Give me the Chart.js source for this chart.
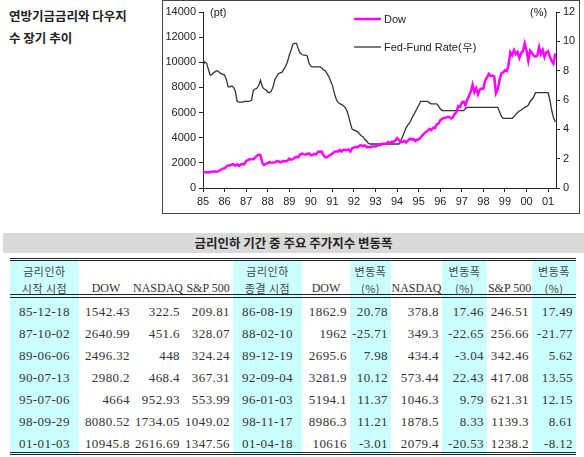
<!DOCTYPE html>
<html>
<head>
<meta charset="utf-8">
<script src="https://cdn.jsdelivr.net/npm/chart.js"></script>
<style>
  body { margin: 0; background: #fff; width: 584px; height: 457px; position: relative; overflow: hidden; }
  .title { position: absolute; left: 9px; top: 5px; font: bold 12.5px "Noto Sans CJK KR", sans-serif; line-height: 22px; color: #222; }
  .frame { position: absolute; left: 162px; top: 0; width: 418px; height: 214px; border: 1px solid #444; box-sizing: border-box; }
  .frame canvas { position: absolute; left: 0; top: 0; }
  .bar { position: absolute; left: 3px; top: 233px; width: 581px; height: 20px; background: #d9d9d9;
         font: bold 12.5px "Noto Sans CJK KR", sans-serif; color: #222; text-align: center; line-height: 20px; }
  table { position: absolute; left: 10px; top: 258px; border-collapse: collapse; table-layout: fixed;
          border-top: 3px double #222; border-bottom: 3px double #222; color: #333; }
  th { height: 30px; padding: 0; font-weight: normal; vertical-align: bottom; text-align: center;
       border-bottom: 4px double #222; font: 12px "Liberation Serif", serif; line-height: 16.5px; }
  th div { position: relative; top: 2px; }
  th .ko { font: 11px "Noto Sans CJK KR", sans-serif; letter-spacing: 0.5px; line-height: 16.5px; color: #444; }
  td { height: 22px; padding: 0 3px 0 0; text-align: right; font: 13px "Liberation Serif", serif; letter-spacing: 0.4px; }
  td span { position: relative; top: 3px; }
  .c { background: #ccffff; }
  td.d { text-align: center; padding: 0; }
</style>
</head>
<body>
<div class="title">연방기금금리와 다우지<br>수 장기 추이</div>
<div class="frame"><canvas id="chart" width="416" height="212"></canvas></div>
<div class="bar">금리인하 기간 중 주요 주가지수 변동폭</div>
<table id="tbl">
  <colgroup>
    <col style="width:69px"><col style="width:54px"><col style="width:50px"><col style="width:50px">
    <col style="width:69px"><col style="width:48px"><col style="width:41px"><col style="width:51px">
    <col style="width:45px"><col style="width:45px"><col style="width:44px">
  </colgroup>
  <thead id="thead"></thead>
  <tbody id="tbody"></tbody>
</table>
<script>
// monthly, Jan 1985 .. May 2001
const yearLabels = ['85', '86', '87', '88', '89', '90', '91', '92', '93', '94', '95', '96', '97', '98', '99', '00', '01']

const dowValues = [
  1240, 1260, 1250, 1230, 1270, 1300, 1320, 1310, 1300, 1360, 1450, 1540,
  1570, 1700, 1810, 1780, 1870, 1880, 1770, 1890, 1760, 1870, 1910, 1895,
  2150, 2220, 2300, 2280, 2290, 2420, 2570, 2650, 2600, 1990, 1830, 1940,
  1960, 2070, 1990, 2030, 2030, 2140, 2130, 2030, 2110, 2150, 2115, 2170,
  2340, 2260, 2290, 2420, 2480, 2440, 2660, 2740, 2690, 2645, 2705, 2750,
  2590, 2630, 2710, 2660, 2880, 2880, 2905, 2615, 2450, 2440, 2560, 2635,
  2735, 2880, 2915, 2890, 3030, 2905, 3025, 3045, 3015, 3070, 2895, 3170,
  3225, 3265, 3235, 3360, 3395, 3320, 3395, 3255, 3270, 3225, 3305, 3300,
  3310, 3370, 3435, 3430, 3525, 3515, 3540, 3650, 3555, 3680, 3685, 3755,
  3980, 3830, 3635, 3680, 3760, 3625, 3765, 3915, 3845, 3910, 3740, 3835,
  3845, 4010, 4160, 4320, 4465, 4555, 4710, 4610, 4790, 4755, 5075, 5115,
  5395, 5485, 5590, 5570, 5645, 5655, 5530, 5615, 5880, 6030, 6520, 6450,
  6815, 6875, 6585, 7010, 7330, 7670, 8220, 7620, 7945, 7440, 7825, 7910,
  7905, 8545, 8800, 9065, 8900, 8950, 8885, 7540, 7845, 8590, 9115, 9180,
  9360, 9305, 9785, 10790, 10560, 10970, 10655, 10830, 10335, 10730, 10880, 11495,
  10940, 10130, 10920, 10735, 10520, 10450, 10520, 11215, 10650, 10970, 10415, 10790,
  10885, 10450, 10100, 9900, 10700
]

const fedRate = [
  8.35, 8.6, 8.5, 8.1, 7.7, 7.75, 7.85, 7.95, 8.0, 7.9, 7.8, 7.75,
  7.7, 7.4, 6.9, 6.9, 6.95, 6.85, 6.6, 5.9, 5.85, 5.85, 5.85, 5.9,
  5.9, 5.9, 5.93, 6.0, 6.65, 6.75, 6.8, 7.0, 7.35, 6.9, 6.75, 6.7,
  6.55, 6.5, 6.6, 6.9, 7.4, 7.6, 7.8, 7.85, 7.9, 8.1, 8.3, 8.6,
  9.06, 9.4, 9.8, 9.86, 9.86, 9.5, 9.2, 9.1, 9.06, 9.06, 9.0, 8.5,
  8.3, 8.26, 8.26, 8.26, 8.26, 8.26, 8.2, 8.05, 8.0, 7.8, 7.6, 7.3,
  7.0, 6.5, 6.1, 5.85, 5.75, 5.7, 5.62, 5.5, 5.3, 4.9, 4.4, 4.0,
  3.95, 3.9, 3.85, 3.7, 3.56, 3.5, 3.3, 3.2, 3.05, 3.0, 3.0, 3.0,
  3.0, 3.0, 3.0, 3.0, 3.0, 3.0, 3.0, 3.0, 3.0, 3.0, 3.0, 3.0,
  3.0, 3.0, 3.2, 3.5, 3.8, 4.1, 4.3, 4.45, 4.7, 4.95, 5.16, 5.4,
  5.62, 5.9, 5.9, 5.9, 5.9, 5.9, 5.8, 5.74, 5.74, 5.74, 5.74, 5.6,
  5.4, 5.28, 5.28, 5.28, 5.28, 5.28, 5.28, 5.28, 5.28, 5.28, 5.28, 5.28,
  5.28, 5.28, 5.4, 5.5, 5.5, 5.5, 5.5, 5.5, 5.5, 5.5, 5.5, 5.5,
  5.5, 5.5, 5.5, 5.5, 5.5, 5.5, 5.5, 5.5, 5.5, 5.2, 4.9, 4.75,
  4.75, 4.75, 4.75, 4.75, 4.75, 4.85, 5.0, 5.15, 5.25, 5.3, 5.4, 5.5,
  5.55, 5.65, 5.9, 6.05, 6.2, 6.5, 6.5, 6.5, 6.5, 6.5, 6.5, 6.5,
  6.5, 6.0, 5.3, 4.8, 4.5
]

// table
const tableHead = ['금리인하<br>시작 시점', 'DOW', 'NASDAQ', 'S&amp;P 500', '금리인하<br>종결 시점',
  'DOW', '변동폭<br>(%)', 'NASDAQ', '변동폭<br>(%)', 'S&amp;P 500', '변동폭<br>(%)']
const cutStart = ['85-12-18', '87-10-02', '89-06-06', '90-07-13', '95-07-06', '98-09-29', '01-01-03']
const dowStart = ['1542.43', '2640.99', '2496.32', '2980.2', '4664', '8080.52', '10945.8']
const nasdaqStart = ['322.5', '451.6', '448', '468.4', '952.93', '1734.05', '2616.69']
const spStart = ['209.81', '328.07', '324.24', '367.31', '553.99', '1049.02', '1347.56']
const cutEnd = ['86-08-19', '88-02-10', '89-12-19', '92-09-04', '96-01-03', '98-11-17', '01-04-18']
const dowEnd = ['1862.9', '1962', '2695.6', '3281.9', '5194.1', '8986.3', '10616']
const dowChg = ['20.78', '-25.71', '7.98', '10.12', '11.37', '11.21', '-3.01']
const nasdaqEnd = ['378.8', '349.3', '434.4', '573.44', '1046.3', '1878.5', '2079.4']
const nasdaqChg = ['17.46', '-22.65', '-3.04', '22.43', '9.79', '8.33', '-20.53']
const spEnd = ['246.51', '256.66', '342.46', '417.08', '621.31', '1139.3', '1238.2']
const spChg = ['17.49', '-21.77', '5.62', '13.55', '12.15', '8.61', '-8.12']

const cyanCols = [0, 4, 6, 8, 10]
let head = '<tr>'
tableHead.forEach((h, i) => {
  const ko = /[가-힣]/.test(h) ? ' class="ko"' : ''
  head += '<th' + (cyanCols.includes(i) ? ' class="c"' : '') + '><div' + ko + '>' + h + '</div></th>'
})
document.getElementById('thead').innerHTML = head + '</tr>'

const cols = [cutStart, dowStart, nasdaqStart, spStart, cutEnd, dowEnd, dowChg, nasdaqEnd, nasdaqChg, spEnd, spChg]
let body = ''
for (let r = 0; r < cutStart.length; r++) {
  body += '<tr>'
  cols.forEach((col, i) => {
    let cls = cyanCols.includes(i) ? 'c' : ''
    if (i === 0 || i === 4) cls += ' d'
    body += '<td class="' + cls + '"><span>' + col[r] + '</span></td>'
  })
  body += '</tr>'
}
document.getElementById('tbody').innerHTML = body

// legend + unit labels drawn on the canvas
const decor = {
  id: 'decor',
  afterDraw(chart) {
    const ctx = chart.ctx
    ctx.save()
    ctx.font = '11px "Liberation Sans", Arial, sans-serif'
    ctx.fillStyle = '#222'
    ctx.textBaseline = 'middle'
    ctx.fillText('(pt)', 47, 12)
    ctx.fillText('(%)', 367, 12)
    const rows = [18, 46]
    chart.data.datasets.forEach((ds, i) => {
      ctx.strokeStyle = ds.borderColor
      ctx.lineWidth = ds.borderWidth
      ctx.beginPath()
      ctx.moveTo(191, rows[i])
      ctx.lineTo(218, rows[i])
      ctx.stroke()
      ctx.fillText(ds.label, 221, rows[i] + 1)
    })
    ctx.restore()
  }
}

const axisStyle = {
  grid: { drawOnChartArea: false, drawTicks: true, tickLength: 4, color: '#222' },
  border: { display: true, color: '#222', width: 1 }
}
const tickFont = { family: '"Liberation Sans", Arial, sans-serif', size: 11 }

new Chart(document.getElementById('chart'), {
  type: 'line',
  data: {
    datasets: [
      {
        label: 'Dow',
        data: dowValues.map((v, i) => ({ x: i, y: v })),
        borderColor: '#ff00ff',
        borderWidth: 2.5,
        pointRadius: 0,
        tension: 0,
        yAxisID: 'y'
      },
      {
        label: 'Fed-Fund Rate(우)',
        data: fedRate.map((v, i) => ({ x: i, y: v })),
        borderColor: '#333333',
        borderWidth: 1.3,
        pointRadius: 0,
        tension: 0,
        yAxisID: 'y1'
      }
    ]
  },
  options: {
    responsive: false,
    animation: false,
    layout: { padding: { top: 11, left: 0, right: 0, bottom: 0 } },
    plugins: { legend: { display: false }, tooltip: { enabled: false } },
    scales: {
      x: {
        type: 'linear',
        min: 0,
        max: 196.4,
        ...axisStyle,
        // one tick per January
        afterBuildTicks: (s) => { s.ticks = yearLabels.map((_, i) => ({ value: i * 12 })) },
        afterFit: (s) => { s.height = 25 },
        ticks: {
          autoSkip: false, maxRotation: 0, padding: 3, color: '#222', font: tickFont,
          callback: (v) => yearLabels[Math.round(v / 12)]
        }
      },
      y: {
        position: 'left',
        min: 0,
        max: 14000,
        ...axisStyle,
        afterFit: (s) => { s.width = 40 },
        ticks: { stepSize: 2000, padding: 3, color: '#222', font: tickFont, callback: (v) => String(v) }
      },
      y1: {
        position: 'right',
        min: 0,
        max: 12,
        ...axisStyle,
        afterFit: (s) => { s.width = 23 },
        ticks: { stepSize: 2, padding: 3, color: '#222', font: tickFont, callback: (v) => String(v) }
      }
    }
  },
  plugins: [decor]
})
</script>
</body>
</html>
